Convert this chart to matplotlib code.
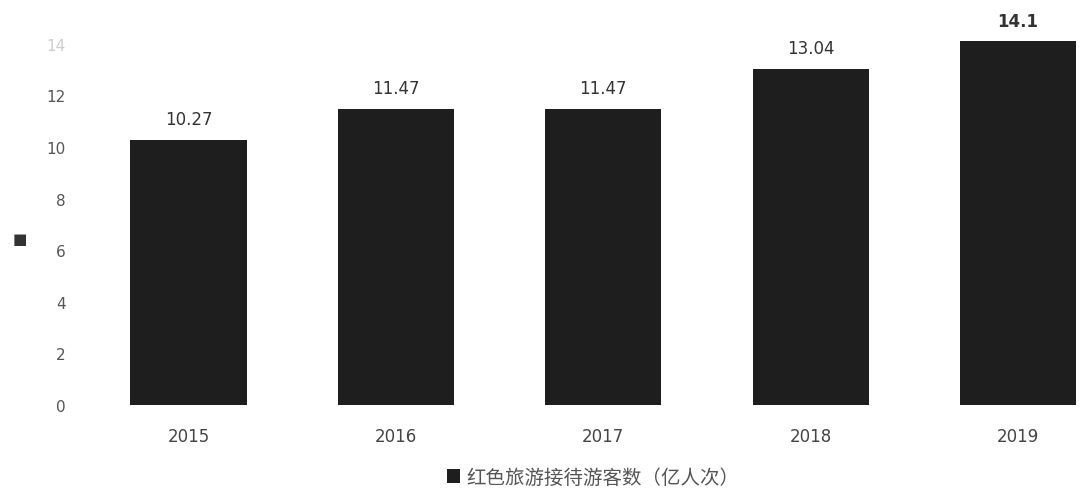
import matplotlib
matplotlib.use("Agg")
import matplotlib.pyplot as plt

plt.rcParams["font.family"] = ["DejaVu Sans", "Noto Sans CJK SC"]

years = ["2015", "2016", "2017", "2018", "2019"]
visitors = [10.27, 11.47, 11.47, 13.04, 14.1]
value_labels = ["10.27", "11.47", "11.47", "13.04", "14.1"]
y_ticks = [0, 2, 4, 6, 8, 10, 12, 14]
legend_label = "红色旅游接待游客数（亿人次）"

BAR_COLOR = "#1e1e1e"

fig = plt.figure(figsize=(10.88, 4.89), dpi=100)
ax = fig.add_axes([0.078, 0.170, 0.922, 0.791])

x = range(len(years))
bars = ax.bar(x, visitors, width=0.56, color=BAR_COLOR, label=legend_label)

for xi, v, lab in zip(x, visitors, value_labels):
    bold = "bold" if lab == "14.1" else "normal"
    ax.text(xi, v + 0.45, lab, ha="center", va="bottom",
            fontsize=12, color="#333333", fontweight=bold)

ax.set_xlim(-0.5, 4.337)
ax.set_ylim(0, 15)
ax.set_xticks(list(x))
ax.set_xticklabels(years, fontsize=12, color="#444444")
ax.set_yticks(y_ticks)
ax.set_yticklabels([str(t) for t in y_ticks], fontsize=11, color="#555555")
# top label is faded in the scan
ax.get_yticklabels()[-1].set_color("#cccccc")
ax.tick_params(axis="both", length=0)
ax.tick_params(axis="y", pad=14)
ax.tick_params(axis="x", pad=16)
for s in ax.spines.values():
    s.set_visible(False)

# stray marker at left edge of the scan
fig.text(0.018, 0.51, "■", fontsize=11, color="#333333",
         ha="center", va="center")

fig.legend(handles=[bars], labels=[legend_label], loc="center",
           bbox_to_anchor=(0.545, 0.022), frameon=False,
           prop={"family": ["Noto Sans CJK SC"], "size": 14},
           handlelength=0.7, handleheight=0.7, handletextpad=0.3,
           labelcolor="#555555")

fig.savefig("out.png", dpi=100)
